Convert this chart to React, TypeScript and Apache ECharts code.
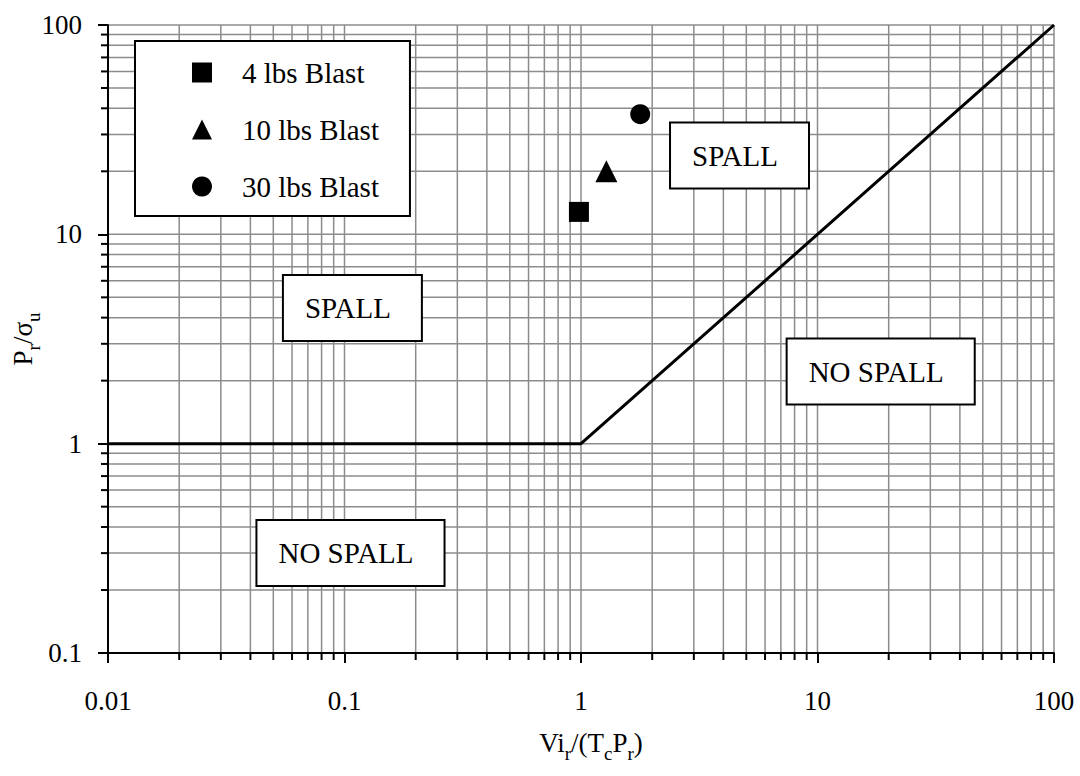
import React, { useEffect, useRef } from "react";
import * as echarts from "echarts";

const FONT = "'Liberation Serif', 'Times New Roman', serif";

// axis ranges / ticks
const X_MIN = 0.01;
const X_MAX = 100;
const Y_MIN = 0.1;
const Y_MAX = 100;
const X_DECADES = [0.01, 0.1, 1, 10];
const Y_DECADES = [0.1, 1, 10];
const MINOR_STEPS = [2, 3, 4, 5, 6, 7, 8, 9];
const X_MAJOR_GRID = [0.1, 1, 10, 100];
const Y_MAJOR_GRID = [1, 10, 100];

// spall boundary line
const BOUNDARY_X = [0.01, 1, 100];
const BOUNDARY_Y = [1, 1, 100];

// test points
const BLAST_4 = [[0.98, 12.8]];
const BLAST_10 = [[1.28, 20]];
const BLAST_30 = [[1.78, 37.5]];

// region labels
const REGION_NAMES = ["SPALL", "SPALL", "NO SPALL", "NO SPALL"];
const REGION_X = [4.68, 0.108, 18.5, 0.106];
const REGION_Y = [23.8, 4.45, 2.21, 0.3];

function buildMinor(decades: number[]) {
  const out: number[] = [];
  decades.forEach((d) => MINOR_STEPS.forEach((s) => out.push(+(d * s).toPrecision(3))));
  return out;
}

export default function App() {
  const ref = useRef<HTMLDivElement>(null);

  useEffect(() => {
    document.body.style.margin = "0";
    if (!ref.current) return;
    const chart = echarts.init(ref.current, null, { renderer: "svg" });

    const xMinor = buildMinor(X_DECADES);
    const yMinor = buildMinor(Y_DECADES);
    const xGridData = [
      ...X_MAJOR_GRID.map((v) => [v, 1, 0]),
      ...xMinor.map((v) => [v, 1, 1]),
    ];
    const yGridData = [
      ...Y_MAJOR_GRID.map((v) => [1, v, 0]),
      ...yMinor.map((v) => [1, v, 1]),
    ];
    const GRID_COLOR = "#8c8c8c";

    const boundary = BOUNDARY_X.map((x, i) => [x, BOUNDARY_Y[i]]);

    const rich = {
      m: { fontSize: 27, lineHeight: 27, fontFamily: FONT, color: "#000", verticalAlign: "top" },
      s: { fontSize: 19, lineHeight: 19, fontFamily: FONT, color: "#000", verticalAlign: "top", padding: [15, 0, 0, 0] },
    };

    const fmt = (v: number) => String(Number(v.toPrecision(3)));

    const option: any = {
      animation: false,
      backgroundColor: "#fff",
      grid: { left: 108, right: 26, top: 25, bottom: 123, containLabel: false, outerBoundsMode: "none" },
      legend: {
        orient: "vertical",
        left: 135,
        top: 41,
        data: ["4 lbs Blast", "10 lbs Blast", "30 lbs Blast"],
        backgroundColor: "#fff",
        borderColor: "#000",
        borderWidth: 2,
        borderRadius: 0,
        padding: [17, 31, 15, 57],
        itemWidth: 20,
        itemHeight: 20,
        itemGap: 28,
        selectedMode: false,
        textStyle: {
          fontFamily: FONT,
          fontSize: 29,
          lineHeight: 28,
          color: "#000",
          padding: [0, 0, 0, 25],
        },
      },
      xAxis: {
        type: "log",
        logBase: 10,
        min: X_MIN,
        max: X_MAX,
        splitNumber: 4,
        name: "{m|Vi}{s|r}{m|/(T}{s|c}{m|P}{s|r}{m|)}",
        nameLocation: "middle",
        nameGap: 76,
        nameMoveOverlap: false,
        nameTextStyle: { rich, padding: [0, 0, 0, 20] },
        axisLine: { onZero: false, lineStyle: { color: "#000", width: 2 } },
        axisTick: { show: true, length: 10, lineStyle: { color: "#000", width: 2 } },
        axisLabel: { fontFamily: FONT, fontSize: 27, color: "#000", margin: 34, formatter: fmt },
        splitLine: { show: false },
      },
      yAxis: {
        type: "log",
        logBase: 10,
        min: Y_MIN,
        max: Y_MAX,
        splitNumber: 3,
        name: "{m|P}{s|r}{m|/σ}{s|u}",
        nameLocation: "middle",
        nameRotate: 90,
        nameGap: 72,
        nameMoveOverlap: false,
        nameTextStyle: { rich },
        axisLine: { onZero: false, lineStyle: { color: "#000", width: 2 } },
        axisTick: { show: true, length: 10, lineStyle: { color: "#000", width: 2 } },
        axisLabel: { fontFamily: FONT, fontSize: 27, color: "#000", margin: 26, formatter: fmt },
        splitLine: { show: false },
      },
      series: [
        {
          type: "custom",
          name: "xgrid",
          z: 1,
          clip: false,
          silent: true,
          data: xGridData,
          renderItem: (params: any, api: any) => {
            const cs = params.coordSys;
            const p = api.coord([api.value(0), 1]);
            const children: any[] = [
              {
                type: "line",
                shape: { x1: p[0], y1: cs.y, x2: p[0], y2: cs.y + cs.height - 1 },
                style: { stroke: GRID_COLOR, lineWidth: 1.5 },
              },
            ];
            if (api.value(2) === 1) {
              children.push({
                type: "line",
                shape: { x1: p[0], y1: cs.y + cs.height, x2: p[0], y2: cs.y + cs.height + 7 },
                style: { stroke: "#000", lineWidth: 2 },
              });
            }
            return { type: "group", children };
          },
        },
        {
          type: "custom",
          name: "ygrid",
          z: 1,
          clip: false,
          silent: true,
          data: yGridData,
          renderItem: (params: any, api: any) => {
            const cs = params.coordSys;
            const p = api.coord([1, api.value(1)]);
            const children: any[] = [
              {
                type: "line",
                shape: { x1: cs.x + 1, y1: p[1], x2: cs.x + cs.width, y2: p[1] },
                style: { stroke: GRID_COLOR, lineWidth: 1.5 },
              },
            ];
            if (api.value(2) === 1) {
              children.push({
                type: "line",
                shape: { x1: cs.x - 7, y1: p[1], x2: cs.x, y2: p[1] },
                style: { stroke: "#000", lineWidth: 2 },
              });
            }
            return { type: "group", children };
          },
        },
        {
          type: "line",
          name: "boundary",
          data: boundary,
          symbol: "none",
          lineStyle: { color: "#000", width: 3 },
          z: 3,
          silent: true,
        },
        {
          type: "scatter",
          name: "4 lbs Blast",
          data: BLAST_4,
          symbol: "rect",
          symbolSize: 20,
          itemStyle: { color: "#000", opacity: 1 },
          z: 4,
        },
        {
          type: "scatter",
          name: "10 lbs Blast",
          data: BLAST_10,
          symbol: "triangle",
          symbolSize: 22,
          itemStyle: { color: "#000", opacity: 1 },
          z: 4,
        },
        {
          type: "scatter",
          name: "30 lbs Blast",
          data: BLAST_30,
          symbol: "circle",
          symbolSize: 20,
          itemStyle: { color: "#000", opacity: 1 },
          z: 4,
        },
      ],
    };

    chart.setOption(option);

    const graphics = REGION_NAMES.map((name, i) => {
      const p = chart.convertToPixel({ xAxisIndex: 0, yAxisIndex: 0 }, [REGION_X[i], REGION_Y[i]]) as number[];
      return {
        type: "text",
        x: p[0],
        y: p[1],
        z: 10,
        silent: true,
        style: {
          text: name,
          font: `29px ${FONT}`,
          fill: "#000",
          align: "center",
          verticalAlign: "middle",
          lineHeight: 28,
          backgroundColor: "#fff",
          borderColor: "#000",
          borderWidth: 2,
          padding: [18, 30, 18, 21],
        },
      };
    });
    chart.setOption({ graphic: graphics });

    return () => chart.dispose();
  }, []);

  return <div ref={ref} style={{ width: 1080, height: 776 }} />;
}
